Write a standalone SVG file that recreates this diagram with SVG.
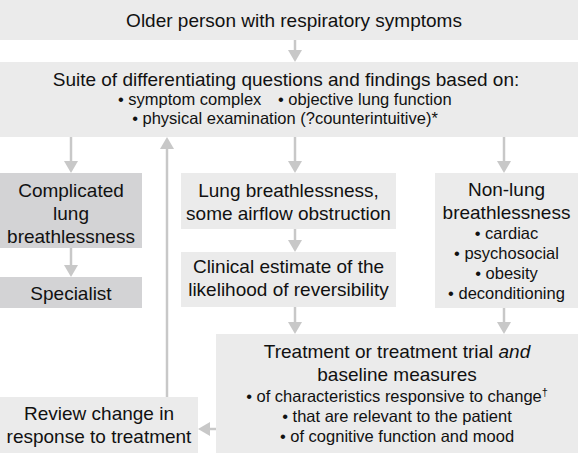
<svg xmlns="http://www.w3.org/2000/svg" width="580" height="455" viewBox="0 0 580 455">
<style>
.lt{fill:#ebebeb}
.dk{fill:#d3d3d5}
text{font-family:"Liberation Sans",Arial,Helvetica,sans-serif;fill:#111;text-anchor:middle}
.h{font-size:19px}
.b{font-size:16.5px}
.c line{stroke:#c8c8c8;stroke-width:2.5;marker-end:url(#ah)}
</style>
<defs>
<marker id="ah" markerUnits="userSpaceOnUse" markerWidth="14" markerHeight="14" viewBox="0 0 14 14" refX="2" refY="7" orient="auto">
<path d="M0,0 L12,7 L0,14 z" fill="#c8c8c8"/>
</marker>
</defs>
<rect width="580" height="455" fill="#fff"/>
<g class="c">
<line x1="295" y1="40" x2="295" y2="52"/>
<line x1="71" y1="137" x2="71" y2="163"/>
<line x1="295" y1="137" x2="295" y2="163"/>
<line x1="504" y1="137" x2="504" y2="163"/>
<line x1="71" y1="248" x2="71" y2="267"/>
<line x1="295" y1="229" x2="295" y2="242"/>
<line x1="295" y1="307" x2="295" y2="324"/>
<line x1="504" y1="308" x2="504" y2="324"/>
<line x1="216" y1="429" x2="208" y2="429"/>
<line x1="167" y1="397" x2="167" y2="147"/>
</g>
<g id="n1">
<rect class="lt" x="0" y="0" width="578" height="40"/>
<text class="h" x="294" y="27">Older person with respiratory symptoms</text>
</g>
<g id="n2">
<rect class="lt" x="0" y="62" width="578" height="75"/>
<text class="h" x="286" y="86">Suite of differentiating questions and findings based on:</text>
<text class="b" x="118" y="105" style="text-anchor:start">• symptom complex</text>
<text class="b" x="278" y="105" style="text-anchor:start">• objective lung function</text>
<text class="b" x="285" y="124">• physical examination (?counterintuitive)*</text>
</g>
<g id="n3">
<rect class="dk" x="0" y="173" width="142" height="75"/>
<text class="h" x="71" y="197">Complicated</text>
<text class="h" x="71" y="220">lung</text>
<text class="h" x="71" y="243">breathlessness</text>
</g>
<g id="n4">
<rect class="dk" x="0" y="277" width="142" height="31"/>
<text class="h" x="71" y="300">Specialist</text>
</g>
<g id="n5">
<rect class="lt" x="181" y="173" width="215" height="56"/>
<text class="h" x="288.5" y="197">Lung breathlessness,</text>
<text class="h" x="288.5" y="220">some airflow obstruction</text>
</g>
<g id="n6">
<rect class="lt" x="181" y="252" width="215" height="55"/>
<text class="h" x="288.5" y="273">Clinical estimate of the</text>
<text class="h" x="288.5" y="296">likelihood of reversibility</text>
</g>
<g id="n7">
<rect class="lt" x="435" y="173" width="143" height="135"/>
<text class="h" x="506.5" y="196">Non-lung</text>
<text class="h" x="506.5" y="219">breathlessness</text>
<text class="b" x="506.5" y="239">• cardiac</text>
<text class="b" x="506.5" y="259">• psychosocial</text>
<text class="b" x="506.5" y="279">• obesity</text>
<text class="b" x="506.5" y="299">• deconditioning</text>
</g>
<g id="n8">
<rect class="lt" x="216" y="334" width="362" height="119"/>
<text class="h" x="397" y="358">Treatment or treatment trial <tspan font-style="italic">and</tspan></text>
<text class="h" x="397" y="381">baseline measures</text>
<text class="b" x="397" y="402">• of characteristics responsive to change<tspan font-size="11" dy="-6">†</tspan></text>
<text class="b" x="397" y="422">• that are relevant to the patient</text>
<text class="b" x="397" y="442">• of cognitive function and mood</text>
</g>
<g id="n9">
<rect class="lt" x="0" y="397" width="198" height="56"/>
<text class="h" x="99" y="420">Review change in</text>
<text class="h" x="99" y="443">response to treatment</text>
</g>
</svg>
